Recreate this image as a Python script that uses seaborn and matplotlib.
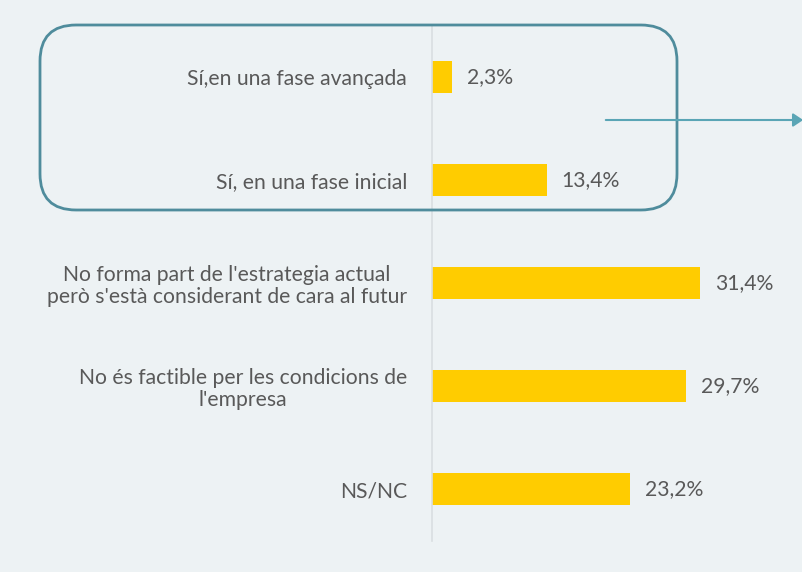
import matplotlib
matplotlib.use("Agg")
import matplotlib.pyplot as plt
import seaborn as sns
import pandas as pd
from matplotlib.patches import FancyBboxPatch, FancyArrowPatch

categories = [
    "Sí,en una fase avançada",
    "Sí, en una fase inicial",
    "No forma part de l'estrategia actual\nperò s'està considerant de cara al futur",
    "No és factible per les condicions de\nl'empresa",
    "NS/NC",
]
values = [2.3, 13.4, 31.4, 29.7, 23.2]
value_labels = ["2,3%", "13,4%", "31,4%", "29,7%", "23,2%"]

bg = "#edf2f4"
sns.set_theme(style="white")
plt.rcParams["font.family"] = ["Lato", "DejaVu Sans"]

fig = plt.figure(figsize=(8.03, 5.72), dpi=100, facecolor=bg)
W, H = 803, 572
ax_left, ax_right = 432, 790
ax_top, ax_bot = 25.5, 540.5
ax = fig.add_axes([ax_left / W, 1 - ax_bot / H, (ax_right - ax_left) / W, (ax_bot - ax_top) / H])
ax.set_facecolor(bg)

df = pd.DataFrame({"cat": categories, "val": values})
sns.barplot(data=df, x="val", y="cat", ax=ax, color="#ffcc00", width=0.32,
            saturation=1, orient="h", linewidth=0)

px_per_unit = 8.55
ax.set_xlim(0, (ax_right - ax_left) / px_per_unit)
ax.set_ylim(4.5, -0.5)
for s in ["top", "right", "bottom"]:
    ax.spines[s].set_visible(False)
ax.spines["left"].set_color("#d9dee1")
ax.spines["left"].set_linewidth(1.2)
ax.set_xticks([])
ax.set_xlabel("")
ax.set_ylabel("")
ax.tick_params(axis="y", length=0, pad=18)
ax.set_yticks(range(len(categories)))
ax.set_yticklabels(categories, fontsize=15.2, color="#595959", linespacing=1.15,
                   multialignment="center")

for i, (v, lab) in enumerate(zip(values, value_labels)):
    ax.annotate(lab, (v, i), xytext=(15, 0), textcoords="offset pixels",
                va="center", ha="left", fontsize=15.2, color="#595959")

# rounded rectangle around first two categories
box = FancyBboxPatch((40 / W, 1 - 210 / H), (677 - 40) / W, (210 - 25) / H,
                     boxstyle="round,pad=0,rounding_size=0.045",
                     transform=fig.transFigure, fill=False,
                     edgecolor="#4f8c9c", linewidth=2, mutation_aspect=W / H)
fig.patches.append(box)

arrow = FancyArrowPatch((603 / W, 1 - 120 / H), (806 / W, 1 - 120 / H),
                        transform=fig.transFigure, arrowstyle="-|>,head_length=6,head_width=4",
                        color="#5aa5b5", linewidth=1.5, mutation_scale=1)
fig.patches.append(arrow)

fig.savefig("out.png", dpi=100, facecolor=bg)
